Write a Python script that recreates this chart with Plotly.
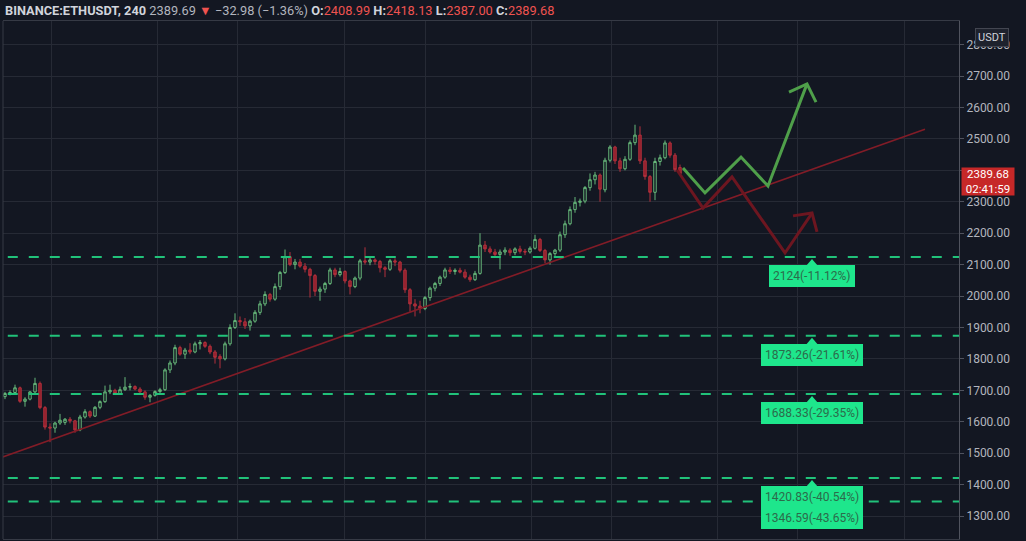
import plotly.graph_objects as go

# ---------------- data ----------------
opens = [1680,1690,1693,1708,1665,1672,1695,1722,1645,1583,
         1580,1596,1598,1608,1603,1574,1615,1632,1618,1646,
         1664,1695,1700,1690,1702,1710,1712,1704,1695,1678,
         1684,1696,1702,1765,1787,1836,1815,1828,1822,1848,
         1852,1840,1822,1808,1800,1848,1900,1922,1918,1905,
         1920,1948,1975,2005,1990,2030,2075,2125,2100,2108,
         2095,2085,2065,2015,2022,2040,2083,2068,2078,2048,
         2030,2057,2112,2108,2115,2110,2090,2085,2112,2108,
         2082,2020,1975,1968,1960,1995,2025,2040,2060,2083,
         2078,2082,2076,2060,2052,2072,2162,2150,2140,2132,
         2140,2146,2138,2150,2142,2140,2152,2180,2145,2115,
         2135,2146,2195,2230,2275,2298,2302,2345,2370,2385,
         2338,2432,2474,2430,2405,2435,2488,2512,2430,2380,
         2330,2428,2440,2487,2448,2408.99]
highs = [1695,1700,1718,1712,1678,1698,1740,1728,1650,1595,
         1600,1625,1612,1615,1606,1622,1640,1636,1650,1668,
         1715,1718,1705,1712,1742,1722,1716,1710,1700,1688,
         1700,1708,1770,1795,1845,1842,1835,1850,1855,1860,
         1856,1846,1828,1815,1855,1910,1945,1935,1930,1925,
         1955,1985,2015,2010,2040,2080,2148,2140,2118,2118,
         2105,2090,2070,2030,2045,2090,2090,2090,2082,2052,
         2062,2118,2155,2125,2120,2115,2095,2118,2120,2112,
         2088,2025,1990,1985,2000,2030,2045,2065,2090,2092,
         2088,2090,2085,2068,2080,2200,2175,2158,2150,2148,
         2155,2152,2155,2160,2150,2158,2195,2185,2150,2140,
         2150,2205,2240,2285,2315,2310,2350,2390,2395,2390,
         2440,2480,2478,2440,2445,2495,2545,2540,2440,2385,
         2440,2450,2495,2492,2455,2418.13]
lows = [1672,1684,1688,1660,1648,1668,1690,1640,1575,1535,
        1565,1590,1590,1595,1565,1570,1610,1612,1615,1640,
        1660,1688,1685,1686,1698,1700,1700,1690,1670,1662,
        1680,1690,1698,1755,1780,1810,1800,1815,1818,1830,
        1835,1815,1785,1770,1795,1842,1895,1905,1895,1890,
        1915,1940,1968,1982,1985,2020,2070,2095,2085,2090,
        2075,1995,2000,1985,2010,2035,2060,2062,2040,2005,
        2025,2050,2100,2098,2100,2075,2060,2080,2095,2075,
        2010,1950,1935,1945,1955,1985,2015,2032,2055,2070,
        2068,2072,2055,2045,2048,2068,2140,2135,2125,2085,
        2130,2128,2130,2135,2130,2135,2148,2140,2105,2100,
        2128,2140,2185,2225,2265,2285,2295,2335,2355,2300,
        2330,2425,2420,2395,2400,2430,2480,2420,2370,2300,
        2305,2415,2435,2440,2395,2387]
closes = [1690,1693,1708,1665,1672,1695,1722,1645,1583,1580,
          1596,1605,1608,1603,1574,1615,1632,1618,1646,1664,
          1695,1700,1690,1702,1710,1712,1704,1695,1678,1684,
          1696,1702,1765,1787,1836,1815,1828,1822,1848,1852,
          1840,1822,1805,1800,1848,1900,1922,1918,1905,1920,
          1948,1975,2005,1990,2030,2075,2125,2100,2108,2095,
          2085,2065,2015,2022,2040,2083,2068,2078,2048,2030,
          2057,2112,2108,2115,2110,2090,2085,2112,2108,2082,
          2020,1975,1968,1960,1995,2025,2040,2060,2083,2078,
          2082,2076,2060,2052,2072,2162,2150,2140,2132,2140,
          2146,2138,2150,2142,2140,2152,2180,2145,2115,2135,
          2146,2195,2230,2275,2298,2302,2345,2370,2385,2340,
          2432,2474,2430,2405,2435,2488,2512,2430,2380,2330,
          2428,2440,2487,2448,2402,2389.68]

# support levels and their labels
levels = [2124, 1873.26, 1688.33, 1420.83, 1346.59]
level_labels = ["2124(-11.12%)", "1873.26(-21.61%)", "1688.33(-29.35%)",
                "1420.83(-40.54%)", "1346.59(-43.65%)"]

# trend line (bar index, price)
trend_x = [-1, 184]
trend_y = [1485, 2531]

# projected paths (bar index, price)
bull_x = [135.6, 140, 147.2, 152.6, 160.4]
bull_y = [2407, 2328, 2442, 2350, 2675]
bull_head_x = [156.8, 160.4, 162.2]
bull_head_y = [2649, 2675, 2617]
bear_x = [134.4, 139.6, 145.4, 156, 161.4]
bear_y = [2401, 2280, 2379, 2137, 2264]
bear_head_x = [157.6, 161.4, 162.4]
bear_head_y = [2255, 2264, 2204]

# date grid positions (bar index)
grid_x = [9.2, 30.4, 46.4, 67.8, 84, 105.2, 121.2, 142.4, 158.4, 179.8]
y_ticks = list(range(1300, 2900, 100))
hidden_tick = 2400          # covered by the last-price tag

last_price = 2389.68
last_time = "02:41:59"

BG = "#131722"
GRID = "#262a35"
TXT = "#b2b5be"

idx = list(range(len(closes)))
y_ticktext = ["" if v == hidden_tick else f"{v:.2f}" for v in y_ticks]

fig = go.Figure()
fig.add_trace(go.Candlestick(
    x=idx, open=opens, high=highs, low=lows, close=closes,
    increasing=dict(line=dict(color="#67b87a", width=1), fillcolor=BG),
    decreasing=dict(line=dict(color="#b3303c", width=1), fillcolor="#8e1f2b"),
    whiskerwidth=0, showlegend=False, hoverinfo="skip"))

fig.add_trace(go.Scatter(x=trend_x, y=trend_y, mode="lines",
                         line=dict(color="#821c27", width=1.6),
                         showlegend=False, hoverinfo="skip"))
for xs, ys in [(bear_x, bear_y), (bear_head_x, bear_head_y)]:
    fig.add_trace(go.Scatter(x=xs, y=ys, mode="lines",
                             line=dict(color="#6d1620", width=3),
                             showlegend=False, hoverinfo="skip"))
for xs, ys in [(bull_x, bull_y), (bull_head_x, bull_head_y)]:
    fig.add_trace(go.Scatter(x=xs, y=ys, mode="lines",
                             line=dict(color="#4f9f4a", width=3),
                             showlegend=False, hoverinfo="skip"))

shapes = []
for lv in levels:
    shapes.append(dict(type="line", xref="paper", x0=0.005, x1=1, yref="y",
                       y0=lv, y1=lv,
                       line=dict(color="#21c27a", width=2, dash="10px,11px")))
# left pane border
shapes.append(dict(type="line", xref="paper", x0=0, x1=0, yref="paper", y0=0, y1=1,
                   line=dict(color="#363a45", width=1)))

label_x = 161.4
shifts = [-19, -19, -19, -19, -17]
annotations = []
for lv, txt, sh in zip(levels, level_labels, shifts):
    shapes.append(dict(type="path", xref="x", yref="y", xsizemode="pixel",
                       ysizemode="pixel", xanchor=label_x, yanchor=lv,
                       path="M -6 %d L 0 %d L 6 %d Z" % (sh + 10, sh + 17, sh + 10),
                       fillcolor="#1ee68c", line=dict(width=0)))
    annotations.append(dict(x=label_x, y=lv, xref="x", yref="y", yshift=sh,
                            text=txt, showarrow=False,
                            font=dict(family="Roboto", size=12, color="#2c6b4b"),
                            bgcolor="#1ee68c", borderpad=4, borderwidth=0))

# header
header = ("<b>BINANCE:ETHUSDT, 240</b> "
          "<span style='color:#b2b5be'>2389.69</span> "
          "<span style='color:#ef5350'>▼</span> "
          "<span style='color:#b2b5be'>−32.98 (−1.36%)</span> "
          "<b>O:</b><span style='color:#ef5350'>2408.99</span> "
          "<b>H:</b><span style='color:#ef5350'>2418.13</span> "
          "<b>L:</b><span style='color:#ef5350'>2387.00</span> "
          "<b>C:</b><span style='color:#ef5350'>2389.68</span>")
annotations.append(dict(x=0, y=1, xref="paper", yref="paper", xanchor="left",
                        yanchor="bottom", xshift=0, yshift=1, text=header,
                        showarrow=False, align="left",
                        font=dict(family="Roboto", size=12.8, color="#d1d4dc")))
# USDT box
annotations.append(dict(x=1, y=1, xref="paper", yref="paper", xanchor="center",
                        yanchor="top", xshift=33, yshift=-7, text="USDT",
                        showarrow=False,
                        font=dict(family="Roboto", size=11, color="#d1d4dc"),
                        bgcolor="#1e222d", bordercolor="#434651", borderwidth=1,
                        borderpad=2))
# last price tag
annotations.append(dict(x=1, y=last_price, xref="paper", yref="y",
                        xanchor="left", yanchor="top", xshift=2, yshift=7,
                        text=f"{last_price:.2f}<br>{last_time}", showarrow=False,
                        font=dict(family="Roboto", size=11.5, color="#ffffff"),
                        bgcolor="#c62828", borderpad=1, width=50, height=25,
                        align="center", valign="middle"))

fig.update_layout(
    width=1026, height=541,
    paper_bgcolor=BG, plot_bgcolor=BG,
    margin=dict(l=3, r=67, t=21, b=2),
    shapes=shapes, annotations=annotations,
    xaxis=dict(range=[-0.4, 190.8], rangeslider=dict(visible=False),
               tickvals=grid_x, showticklabels=False, showgrid=True,
               gridcolor=GRID, gridwidth=1, zeroline=False,
               showline=True, mirror=True, linecolor="#363a45", linewidth=1),
    yaxis=dict(range=[1227, 2875], side="right", tickvals=y_ticks,
               ticktext=y_ticktext, showgrid=True, gridcolor=GRID, gridwidth=1,
               zeroline=False, ticks="outside", ticklen=4, tickcolor="#50535e",
               tickfont=dict(family="Roboto", size=12, color=TXT),
               showline=True, linecolor="#50535e", linewidth=1),
    font=dict(family="Roboto"),
)

fig.write_html("out.html",
               config={"displayModeBar": False},
               post_script="document.body.style.margin='0';"
                           "document.body.style.background='#131722';"
                           "document.body.style.overflow='hidden';")
